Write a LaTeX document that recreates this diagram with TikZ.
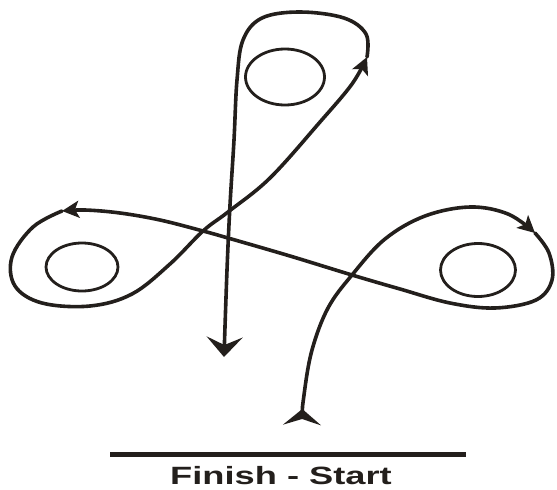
\documentclass[tikz,border=0pt]{standalone}
\usepackage{fontspec}
\setmainfont{Liberation Sans}
\usetikzlibrary{arrows.meta,shapes.geometric}
\definecolor{ink}{HTML}{231F1C}
\tikzset{
  route/.style={draw=ink, line width=3.6pt, line cap=round, line join=round},
  barrel/.style={ellipse, draw=ink, line width=2.8pt, inner sep=0pt},
  routetip/.tip={Stealth[length=17pt, width=17pt, inset=4pt]},
  bigtip/.tip={Stealth[length=20pt, width=36pt, inset=8pt]},
  tailtip/.tip={Stealth[reversed, length=16pt, width=38pt, inset=6pt]},
}
\begin{document}
\begin{tikzpicture}[x=1pt, y=-1pt]
\useasboundingbox (0,0) rectangle (557,490);
% barrels
\node[barrel, minimum width=79pt, minimum height=56pt] (topbarrel) at (285,77) {};
\node[barrel, minimum width=72pt, minimum height=48pt] (leftbarrel) at (82,267) {};
\node[barrel, minimum width=75pt, minimum height=53pt] (rightbarrel) at (478,270) {};
% key points
\coordinate (start) at (302,425);
\coordinate (arrR) at (535,233);
\coordinate (arrL) at (62,211);
\coordinate (arrT) at (367,57);
\coordinate (finish) at (224,357);
% start -> right barrel
\draw[route, tailtip-routetip] plot[smooth, tension=0.6] coordinates {
  (start) (304,395) (312,350) (328,308) (352,275) (385,239) (425,216) (470,207) (508,214) (arrR)};
% around right barrel, across to left barrel
\draw[route, -routetip] plot[smooth, tension=0.6] coordinates {
  (arrR) (549,253) (552,280) (536,300) (495,308) (450,303) (400,289) (352,275) (290,256) (228,238) (203,231) (160,220) (120,213) (85,210) (arrL)};
% around left barrel, up to top barrel
\draw[route, -routetip] plot[smooth, tension=0.6] coordinates {
  (arrL) (33,227) (12,257) (15,286) (42,303) (90,306) (132,294) (170,264) (203,231) (228,212) (270,178) (320,122) (352,84) (arrT)};
% around top barrel, down to finish
\draw[route, -bigtip] plot[smooth, tension=0.6] coordinates {
  (arrT) (366,34) (344,18) (300,12) (262,18) (243,40) (237,80) (234,140) (230,205) (227,270) (finish)};
% finish / start line
\coordinate (lineL) at (110,454);
\coordinate (lineR) at (466,454);
\draw[draw=ink, line width=5pt] (lineL) -- (lineR);
\node[font=\bfseries\fontsize{25}{27}\selectfont, text=ink, xscale=1.45, inner sep=0pt] (label) at (281,476) {Finish - Start};
\end{tikzpicture}
\end{document}
